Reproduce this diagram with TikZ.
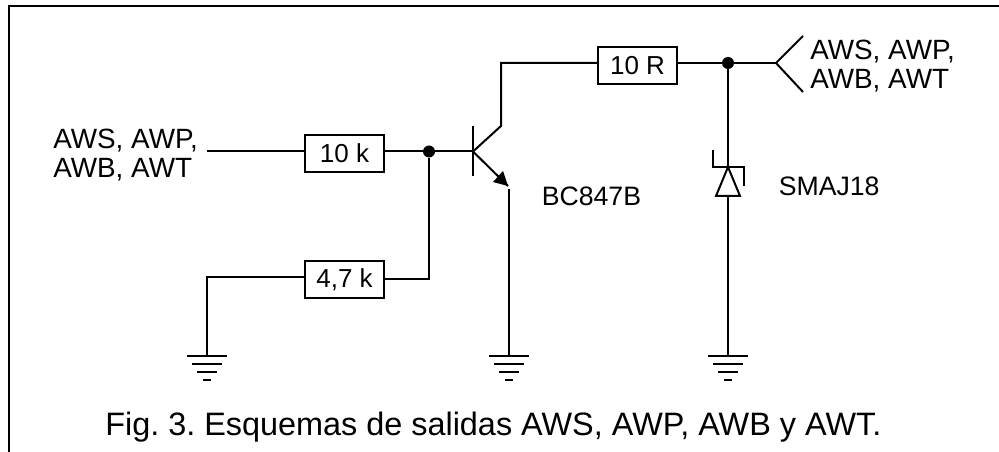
\documentclass[tikz,border=0pt]{standalone}
\usepackage{fontspec}
\setmainfont{Liberation Sans}
\usetikzlibrary{calc}
\tikzset{
  wire/.style={line width=1.5pt},
  res/.style={draw,line width=1.5pt,minimum height=27.5pt,minimum width=59pt,inner sep=0pt,font=\fontsize{19.5}{22}\selectfont},
  lbl/.style={inner sep=0pt,align=left,anchor=west,font=\fontsize{20}{21.75}\selectfont},
  lblb/.style={lbl,font=\fontsize{20.9}{21.75}\selectfont},
  dot/.style={circle,fill=black,inner sep=0pt,minimum size=9pt},
}
\newcommand{\gnd}[1]{%
  \draw[wire] ($(#1)+(-20,0)$) -- ($(#1)+(20,0)$);
  \draw[wire] ($(#1)+(-15,8)$) -- ($(#1)+(15,8)$);
  \draw[wire] ($(#1)+(-10,16)$) -- ($(#1)+(10,16)$);
  \draw[wire] ($(#1)+(-4,24)$) -- ($(#1)+(4,24)$);
}
\begin{document}
\frenchspacing
\begin{tikzpicture}[x=0.75pt,y=-0.75pt]
\useasboundingbox (0,0) rectangle (999,452);
\draw[wire] (9,452) -- (9,6) -- (999,6);
% nodes
\node[res] (r10k) at (344.5,153.5) {10 k};
\node[res] (r47k) at (344.5,279.5) {4,7 k};
\node[res] (r10r) at (637.5,65.5) {10 R};
\node[dot] (j1) at (429,151.5) {};
\node[dot] (j2) at (728,63) {};
\coordinate (in) at (207,151.5);
\coordinate (base) at (473,151.5);
\coordinate (bt) at (473,126);
\coordinate (bb) at (473,176);
\coordinate (col) at (501,126);
\coordinate (ctop) at (501,63);
\coordinate (emit) at (508,186);
\coordinate (elow) at (509,189);
\coordinate (g1) at (207,356);
\coordinate (g2) at (509,356);
\coordinate (g3) at (728,356);
\coordinate (fork) at (776,63);
\coordinate (fa) at (803,36);
\coordinate (fb) at (803,92);
\coordinate (zt) at (728,167);
\coordinate (zb) at (728,196);
% wires
\draw[wire] (in) -- (in -| r10k.west);
\draw[wire] (r10k.east |- j1) -- (j1) -- (base);
\draw[wire] (j1) |- (r47k.east |- 0,279);
\draw[wire] (r47k.west |- 0,277) -| (g1);
\draw[wire] (bt) -- (bb);
\draw[wire] (base) -- (col) -- (ctop) -- (ctop -| r10r.west);
\draw[wire] (base) -- (emit);
\fill (emit) -- (493,182) -- (503,171) -- cycle;
\draw[wire] (elow) -- (g2);
\draw[wire] (r10r.east |- j2) -- (j2) -- (fork);
\draw[wire] (fa) -- (fork) -- (fb);
\draw[wire] (j2) -- (zt);
\draw[wire] (713,150) -- (713,167) -- (744,167) -- (744,186);
\draw[wire,line join=miter] (zt) -- (716,196) -- (740,196) -- cycle;
\draw[wire] (zb) -- (g3);
\gnd{g1}
\gnd{g2}
\gnd{g3}
% labels
\node[lblb] (l1) at (53,155) {AWS, AWP,\\AWB, AWT};
\node[lblb] (l2) at (810,66.5) {AWS, AWP,\\AWB, AWT};
\node[lbl] (l3) at (541.5,196) {BC847B};
\node[lbl] (l4) at (778.5,186) {SMAJ18};
\node[inner sep=0pt,anchor=west,font=\fontsize{24.3}{28}\selectfont] (cap) at (105,427) {Fig. 3. Esquemas de salidas AWS, AWP, AWB y AWT.};
\end{tikzpicture}
\end{document}
